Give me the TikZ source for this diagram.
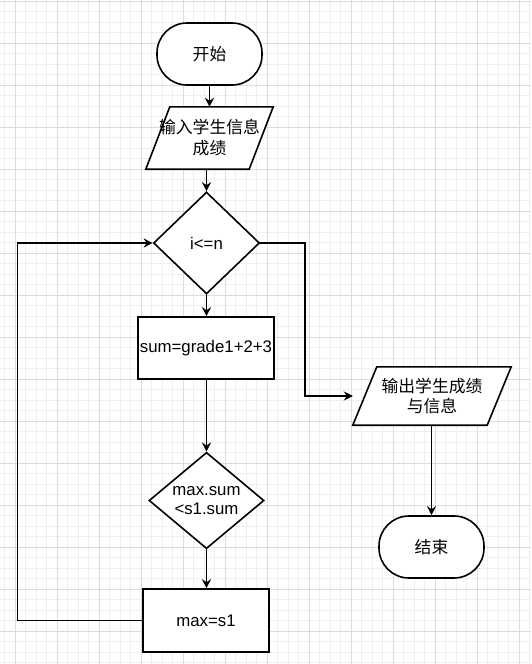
\documentclass[tikz,border=0pt]{standalone}
\usepackage{fontspec}
\setmainfont{Liberation Sans}
\newfontfamily\cjk{Noto Sans CJK SC}
\usetikzlibrary{shapes.geometric,arrows.meta}
\pgfdeclarelayer{gridlayer}
\pgfdeclarelayer{shapelayer}
\pgfsetlayers{gridlayer,shapelayer,main}
\definecolor{minorgrid}{HTML}{EFEFEF}
\definecolor{majorgrid}{HTML}{DCDCDC}
\begin{document}
\begin{tikzpicture}[x=1pt,y=-1pt,
  every node/.style={font=\fontsize{16.8}{20}\selectfont, text=black, inner sep=0pt, align=center},
  box/.style={draw=black, line width=1.6pt, rectangle, fill=white},
  term/.style={box, rounded corners=30pt},
  dec/.style={draw=black, line width=1.6pt, diamond, fill=white},
  io/.style={rectangle},
  ioline/.style={draw=black, line width=1.6pt, fill=white},
  conn/.style={draw=black, line width=1.5pt, -{Stealth[length=9pt,width=9pt,inset=3pt]}},
  cjktext/.style={font=\cjk\fontsize{16.8}{21}\selectfont},
  minorline/.style={draw=minorgrid, line width=0.8pt},
  majorline/.style={draw=majorgrid, line width=0.9pt}
]
\useasboundingbox (0,0) rectangle (531,664);
\begin{pgfonlayer}{gridlayer}
  \fill[white] (0,0) rectangle (531,664);
  \foreach \i in {-1,...,49} {\draw[minorline] ({15+10.5*\i},0) -- ({15+10.5*\i},664);}
  \foreach \j in {0,...,63} {\draw[minorline] (0,{1+10.5*\j}) -- (531,{1+10.5*\j});}
  \foreach \i in {0,...,12} {\draw[majorline] ({15+42*\i},0) -- ({15+42*\i},664);}
  \foreach \j in {0,...,15} {\draw[majorline] (0,{1+42*\j}) -- (531,{1+42*\j});}
\end{pgfonlayer}

\node[term, minimum width=105pt, minimum height=62pt, cjktext] (start) at (209.5,54) {开始};
\node[io, minimum width=127pt, minimum height=62pt, cjktext] (in) at (209.5,138) {输入学生信息\\成绩};
\node[dec, minimum width=106pt, minimum height=102pt] (d1) at (206.5,243) {i<=n};
\node[box, minimum width=136pt, minimum height=62pt] (sum) at (206,348) {sum=grade1+2+3};
\node[dec, minimum width=115pt, minimum height=93pt, font=\fontsize{16.8}{19}\selectfont] (d2) at (206.5,500.5) {max.sum\\<s1.sum};
\node[box, minimum width=126pt, minimum height=63pt] (m) at (206,620.5) {max=s1};
\node[io, minimum width=158pt, minimum height=58pt, font=\cjk\fontsize{16.8}{19.5}\selectfont] (out) at (432,396) {输出学生成绩\\与信息};
\node[term, minimum width=105pt, minimum height=62pt, cjktext] (end) at (431.5,547) {结束};

\begin{pgfonlayer}{shapelayer}
  \draw[ioline] (in.south west) -- ([xshift=-24pt]in.south east) -- (in.north east) -- ([xshift=24pt]in.north west) -- cycle;
  \draw[ioline] (out.south west) -- ([xshift=-24pt]out.south east) -- (out.north east) -- ([xshift=24pt]out.north west) -- cycle;
\end{pgfonlayer}

\coordinate (loopx) at (17.5,0);
\coordinate (rx) at (305,0);

\draw[conn] (start.south) -- (in.north);
\draw[conn] (in.south -| d1.north) -- (d1.north);
\draw[conn] (d1.south) -- (d1.south |- sum.north);
\draw[conn] (sum.south -| d2.north) -- (d2.north);
\draw[conn] (d2.south) -- (d2.south |- m.north);
\draw[conn] (m.west) -- (m.west -| loopx) -- (d1.west -| loopx) -- (d1.west);
\draw[conn] (d1.east) -- (d1.east -| rx) -- (out.west -| rx) -- (out.west);
\draw[conn] (out.south -| end.north) -- (end.north);
\end{tikzpicture}
\end{document}
